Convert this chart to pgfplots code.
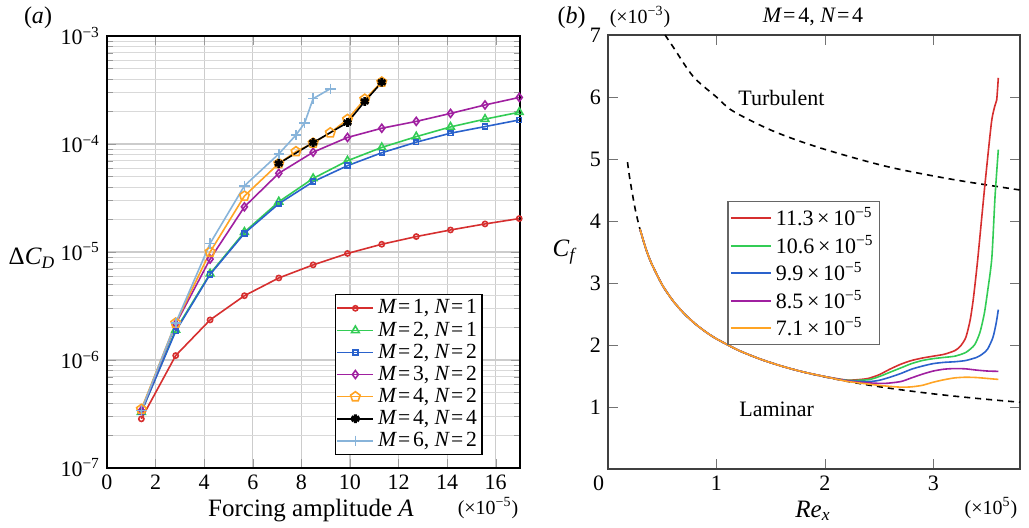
\documentclass[border=0pt]{standalone}
\usepackage{fontspec}
\setmainfont{Liberation Serif}
\usepackage{pgfplots}
\pgfplotsset{compat=1.18}
\definecolor{cR}{HTML}{D62F2F}
\definecolor{cG}{HTML}{33CC55}
\definecolor{cB}{HTML}{2A62CC}
\definecolor{cP}{HTML}{A020A0}
\definecolor{cO}{HTML}{FFA424}
\definecolor{cL}{HTML}{88B4DA}
\newcommand{\tm}[1]{10\textsuperscript{\textminus#1}}
\newcommand{\mn}[2]{\textit{M}\hspace{0.5pt}=\hspace{1.4pt}#1, \textit{N}\hspace{0.5pt}=\hspace{1.4pt}#2}
\begin{document}
\begin{tikzpicture}
\useasboundingbox (0,0) rectangle (514.5pt,-264pt);
% ---------------- left panel ----------------
\begin{axis}[at={(53.5pt,-234pt)}, anchor=south west, scale only axis,
  width=206.5pt, height=216pt,
  xmin=0, xmax=17, ymode=log, ymin=1e-7, ymax=1e-3,
  xtick={0,2,...,16}, ytick={1e-7,1e-6,1e-5,1e-4,1e-3},
  yticklabels={\tm7,\tm6,\tm5,\tm4,\tm3},
  grid=both, major grid style={gray!40, line width=0.6pt}, minor grid style={gray!30},
  tick style={gray!80}, tick align=inside,
  /pgf/number format/assume math mode=true,
  tick label style={font=\fontsize{11}{13}\selectfont},
  axis line style={black, line width=0.6pt},
  legend cell align=left,
  legend style={at={(0.552,0.03)}, anchor=south west, draw=black, line width=0.6pt,
    font=\fontsize{10.8}{12}\selectfont, inner sep=0.5pt, row sep=-1.6pt},
  legend image code/.code={\draw[mark repeat=2,mark phase=2,#1] plot coordinates {(0pt,0pt) (9pt,0pt) (18pt,0pt)};},
  every axis plot/.append style={line width=0.8pt},
  clip=false]
\addplot[cR, mark=o, mark size=1.3pt] coordinates {(1.414,2.85e-7)(2.828,1.1e-6)(4.243,2.35e-6)(5.657,3.94e-6)(7.071,5.75e-6)(8.485,7.6e-6)(9.899,9.7e-6)(11.31,1.18e-5)(12.73,1.39e-5)(14.14,1.6e-5)(15.56,1.82e-5)(16.97,2.04e-5)};
\addlegendentry{\mn11}
\addplot[cG, mark=triangle, mark size=2.2pt] coordinates {(1.414,3.3e-7)(2.828,1.9e-6)(4.243,6.3e-6)(5.657,1.53e-5)(7.071,2.92e-5)(8.485,4.8e-5)(9.899,7.0e-5)(11.31,9.3e-5)(12.73,1.17e-4)(14.14,1.44e-4)(15.56,1.70e-4)(16.97,1.97e-4)};
\addlegendentry{\mn21}
\addplot[cB, mark=square, mark size=1.2pt] coordinates {(1.414,3.3e-7)(2.828,1.85e-6)(4.243,6.2e-6)(5.657,1.49e-5)(7.071,2.8e-5)(8.485,4.48e-5)(9.899,6.3e-5)(11.31,8.3e-5)(12.73,1.04e-4)(14.14,1.26e-4)(15.56,1.45e-4)(16.97,1.67e-4)};
\addlegendentry{\mn22}
\addplot[cP, mark=diamond, mark size=2pt] coordinates {(1.414,3.4e-7)(2.828,2.15e-6)(4.243,8.6e-6)(5.657,2.62e-5)(7.071,5.36e-5)(8.485,8.4e-5)(9.899,1.15e-4)(11.31,1.40e-4)(12.73,1.62e-4)(14.14,1.92e-4)(15.56,2.3e-4)(16.97,2.7e-4)};
\addlegendentry{\mn32}
\addplot[cO, mark=pentagon, mark size=2.5pt] coordinates {(1.414,3.5e-7)(2.828,2.2e-6)(4.243,1.0e-5)(5.657,3.3e-5)(7.071,6.6e-5)(7.778,8.5e-5)(8.485,1.02e-4)(9.192,1.27e-4)(9.899,1.69e-4)(10.61,2.6e-4)(11.31,3.75e-4)};
\addlegendentry{\mn42}
\addplot[black, mark=asterisk, mark size=2.2pt, mark options={line width=1.4pt}] coordinates {(7.071,6.6e-5)(8.485,1.03e-4)(9.899,1.58e-4)(10.61,2.48e-4)(11.31,3.73e-4)};
\addlegendentry{\mn44}
\addplot[cL, mark=+, mark size=2.6pt] coordinates {(1.414,3.4e-7)(2.828,2.2e-6)(4.243,1.2e-5)(5.657,4.1e-5)(7.071,8.1e-5)(7.778,1.21e-4)(8.132,1.56e-4)(8.485,2.63e-4)(9.192,3.25e-4)};
\addlegendentry{\mn62}
\end{axis}
% ---------------- right panel ----------------
\begin{axis}[at={(304pt,-234.5pt)}, anchor=south west, scale only axis,
  width=206pt, height=217pt,
  xmin=0, xmax=3.8, ymin=0, ymax=7,
  xtick={0,1,2,3}, xticklabels={\makebox[0pt][r]{0\hspace{2pt}},1,2,3},
  ytick={1,...,7},
  tick align=inside, tick style={black!55}, major tick length=5pt,
  axis line style={black!75, line width=0.6pt},
  /pgf/number format/assume math mode=true,
  tick label style={font=\fontsize{11}{13}\selectfont},
  legend cell align=left,
  legend style={at={(0.29,0.617)}, anchor=north west, draw=black!60, line width=0.6pt,
    font=\fontsize{11}{12}\selectfont, inner sep=1pt, row sep=-0.8pt,
    /tikz/every even column/.append style={column sep=3pt}},
  legend image code/.code={\draw[#1, line width=0.9pt] (1pt,0pt) -- (21pt,0pt);},
  every axis plot/.append style={line width=0.8pt}]
\addplot[black, dashed, dash pattern=on 3pt off 2.5pt, line width=0.8pt, smooth, forget plot] coordinates {(0.18,4.949)(0.2,4.695)(0.25,4.20)(0.3,3.834)(0.35,3.549)(0.4,3.32)(0.5,2.97)(0.6,2.711)(0.7,2.51)(0.8,2.348)(0.9,2.213)(1.0,2.10)(1.2,1.917)(1.4,1.775)(1.6,1.66)(1.8,1.565)(2.0,1.485)(2.2,1.416)(2.4,1.355)(2.6,1.302)(2.8,1.255)(3.0,1.212)(3.2,1.174)(3.4,1.139)(3.6,1.107)(3.8,1.077)};
\addplot[black, dashed, dash pattern=on 3pt off 2.5pt, line width=0.8pt, smooth, forget plot] coordinates {(0.526,7.0)(0.6,6.81)(0.786,6.33)(1.0,6.0)(1.155,5.77)(1.524,5.45)(1.954,5.18)(2.569,4.88)(3.18,4.67)(3.8,4.5)};
\addplot[cR, smooth, tension=0.4] coordinates {(0.295,3.87)(0.35,3.549)(0.4,3.32)(0.5,2.97)(0.6,2.711)(0.7,2.51)(0.8,2.348)(0.9,2.213)(1.0,2.10)(1.2,1.917)(1.4,1.775)(1.6,1.66)(1.8,1.565)(2.0,1.49)(2.2,1.435)(2.3,1.44)(2.4,1.46)(2.5,1.52)(2.6,1.61)(2.7,1.69)(2.8,1.75)(2.9,1.79)(3.0,1.82)(3.1,1.85)(3.2,1.91)(3.25,1.98)(3.3,2.12)(3.34,2.40)(3.37,2.75)(3.41,3.38)(3.475,4.56)(3.536,5.58)(3.567,5.85)(3.585,5.95)(3.6,6.31)};
\addlegendentry{11.3\,×\,\tm5}
\addplot[cG, smooth, tension=0.4] coordinates {(0.295,3.87)(0.35,3.549)(0.4,3.32)(0.5,2.97)(0.6,2.711)(0.7,2.51)(0.8,2.348)(0.9,2.213)(1.0,2.10)(1.2,1.917)(1.4,1.775)(1.6,1.66)(1.8,1.565)(2.0,1.49)(2.2,1.43)(2.4,1.44)(2.5,1.49)(2.6,1.56)(2.7,1.63)(2.8,1.70)(2.9,1.75)(3.0,1.78)(3.1,1.80)(3.2,1.82)(3.3,1.88)(3.38,2.0)(3.43,2.2)(3.47,2.5)(3.5,2.85)(3.54,3.4)(3.57,4.4)(3.6,5.15)};
\addlegendentry{10.6\,×\,\tm5}
\addplot[cB, smooth, tension=0.4] coordinates {(0.295,3.87)(0.35,3.549)(0.4,3.32)(0.5,2.97)(0.6,2.711)(0.7,2.51)(0.8,2.348)(0.9,2.213)(1.0,2.10)(1.2,1.917)(1.4,1.775)(1.6,1.66)(1.8,1.565)(2.0,1.49)(2.2,1.425)(2.4,1.41)(2.5,1.43)(2.6,1.48)(2.7,1.54)(2.8,1.61)(2.9,1.66)(3.0,1.70)(3.1,1.72)(3.2,1.73)(3.3,1.75)(3.4,1.80)(3.45,1.85)(3.5,1.93)(3.55,2.12)(3.58,2.35)(3.6,2.57)};
\addlegendentry{9.9\,×\,\tm5}
\addplot[cP, smooth, tension=0.4] coordinates {(0.295,3.87)(0.35,3.549)(0.4,3.32)(0.5,2.97)(0.6,2.711)(0.7,2.51)(0.8,2.348)(0.9,2.213)(1.0,2.10)(1.2,1.917)(1.4,1.775)(1.6,1.66)(1.8,1.565)(2.0,1.49)(2.2,1.42)(2.4,1.39)(2.55,1.38)(2.7,1.41)(2.8,1.47)(2.9,1.53)(3.0,1.58)(3.1,1.61)(3.2,1.62)(3.3,1.615)(3.4,1.595)(3.5,1.58)(3.6,1.575)};
\addlegendentry{8.5\,×\,\tm5}
\addplot[cO, smooth, tension=0.4] coordinates {(0.295,3.87)(0.35,3.549)(0.4,3.32)(0.5,2.97)(0.6,2.711)(0.7,2.51)(0.8,2.348)(0.9,2.213)(1.0,2.10)(1.2,1.917)(1.4,1.775)(1.6,1.66)(1.8,1.565)(2.0,1.49)(2.2,1.415)(2.4,1.37)(2.55,1.34)(2.7,1.32)(2.8,1.325)(2.9,1.35)(3.0,1.40)(3.1,1.44)(3.2,1.47)(3.3,1.48)(3.4,1.475)(3.5,1.46)(3.6,1.445)};
\addlegendentry{7.1\,×\,\tm5}
\node[font=\fontsize{11}{13}\selectfont] at (axis cs:1.6,5.98) {Turbulent};
\node[font=\fontsize{11}{13}\selectfont] at (axis cs:1.555,0.96) {Laminar};
\end{axis}
% ---------------- labels ----------------
\node[font=\fontsize{12}{14}\selectfont] at (19pt,-9pt) {(\textit{a})};
\node[font=\fontsize{12}{14}\selectfont] at (285.8pt,-9pt) {(\textit{b})};
\node[font=\fontsize{10}{12}\selectfont] at (320pt,-8.5pt) {(×\tm3)};
\node[font=\fontsize{11}{13}\selectfont] at (406.5pt,-8.5pt) {\mn44};
\node[font=\fontsize{12.5}{14}\selectfont] at (16pt,-129pt) {Δ\textit{C}\textsubscript{\textit{D}}};
\node[font=\fontsize{12.5}{14}\selectfont] at (282.5pt,-126pt) {\textit{C}\textsubscript{\textit{f}}};
\node[font=\fontsize{12.5}{14}\selectfont] at (155.5pt,-255.5pt) {Forcing amplitude \textit{A}};
\node[font=\fontsize{10}{12}\selectfont] at (244pt,-254pt) {(×\tm5)};
\node[font=\fontsize{12.5}{14}\selectfont] at (406.5pt,-255.5pt) {\textit{Re}\textsubscript{\textit{x}}};
\node[font=\fontsize{10}{12}\selectfont] at (495.5pt,-254pt) {(×10\textsuperscript{5})};
\end{tikzpicture}
\end{document}
